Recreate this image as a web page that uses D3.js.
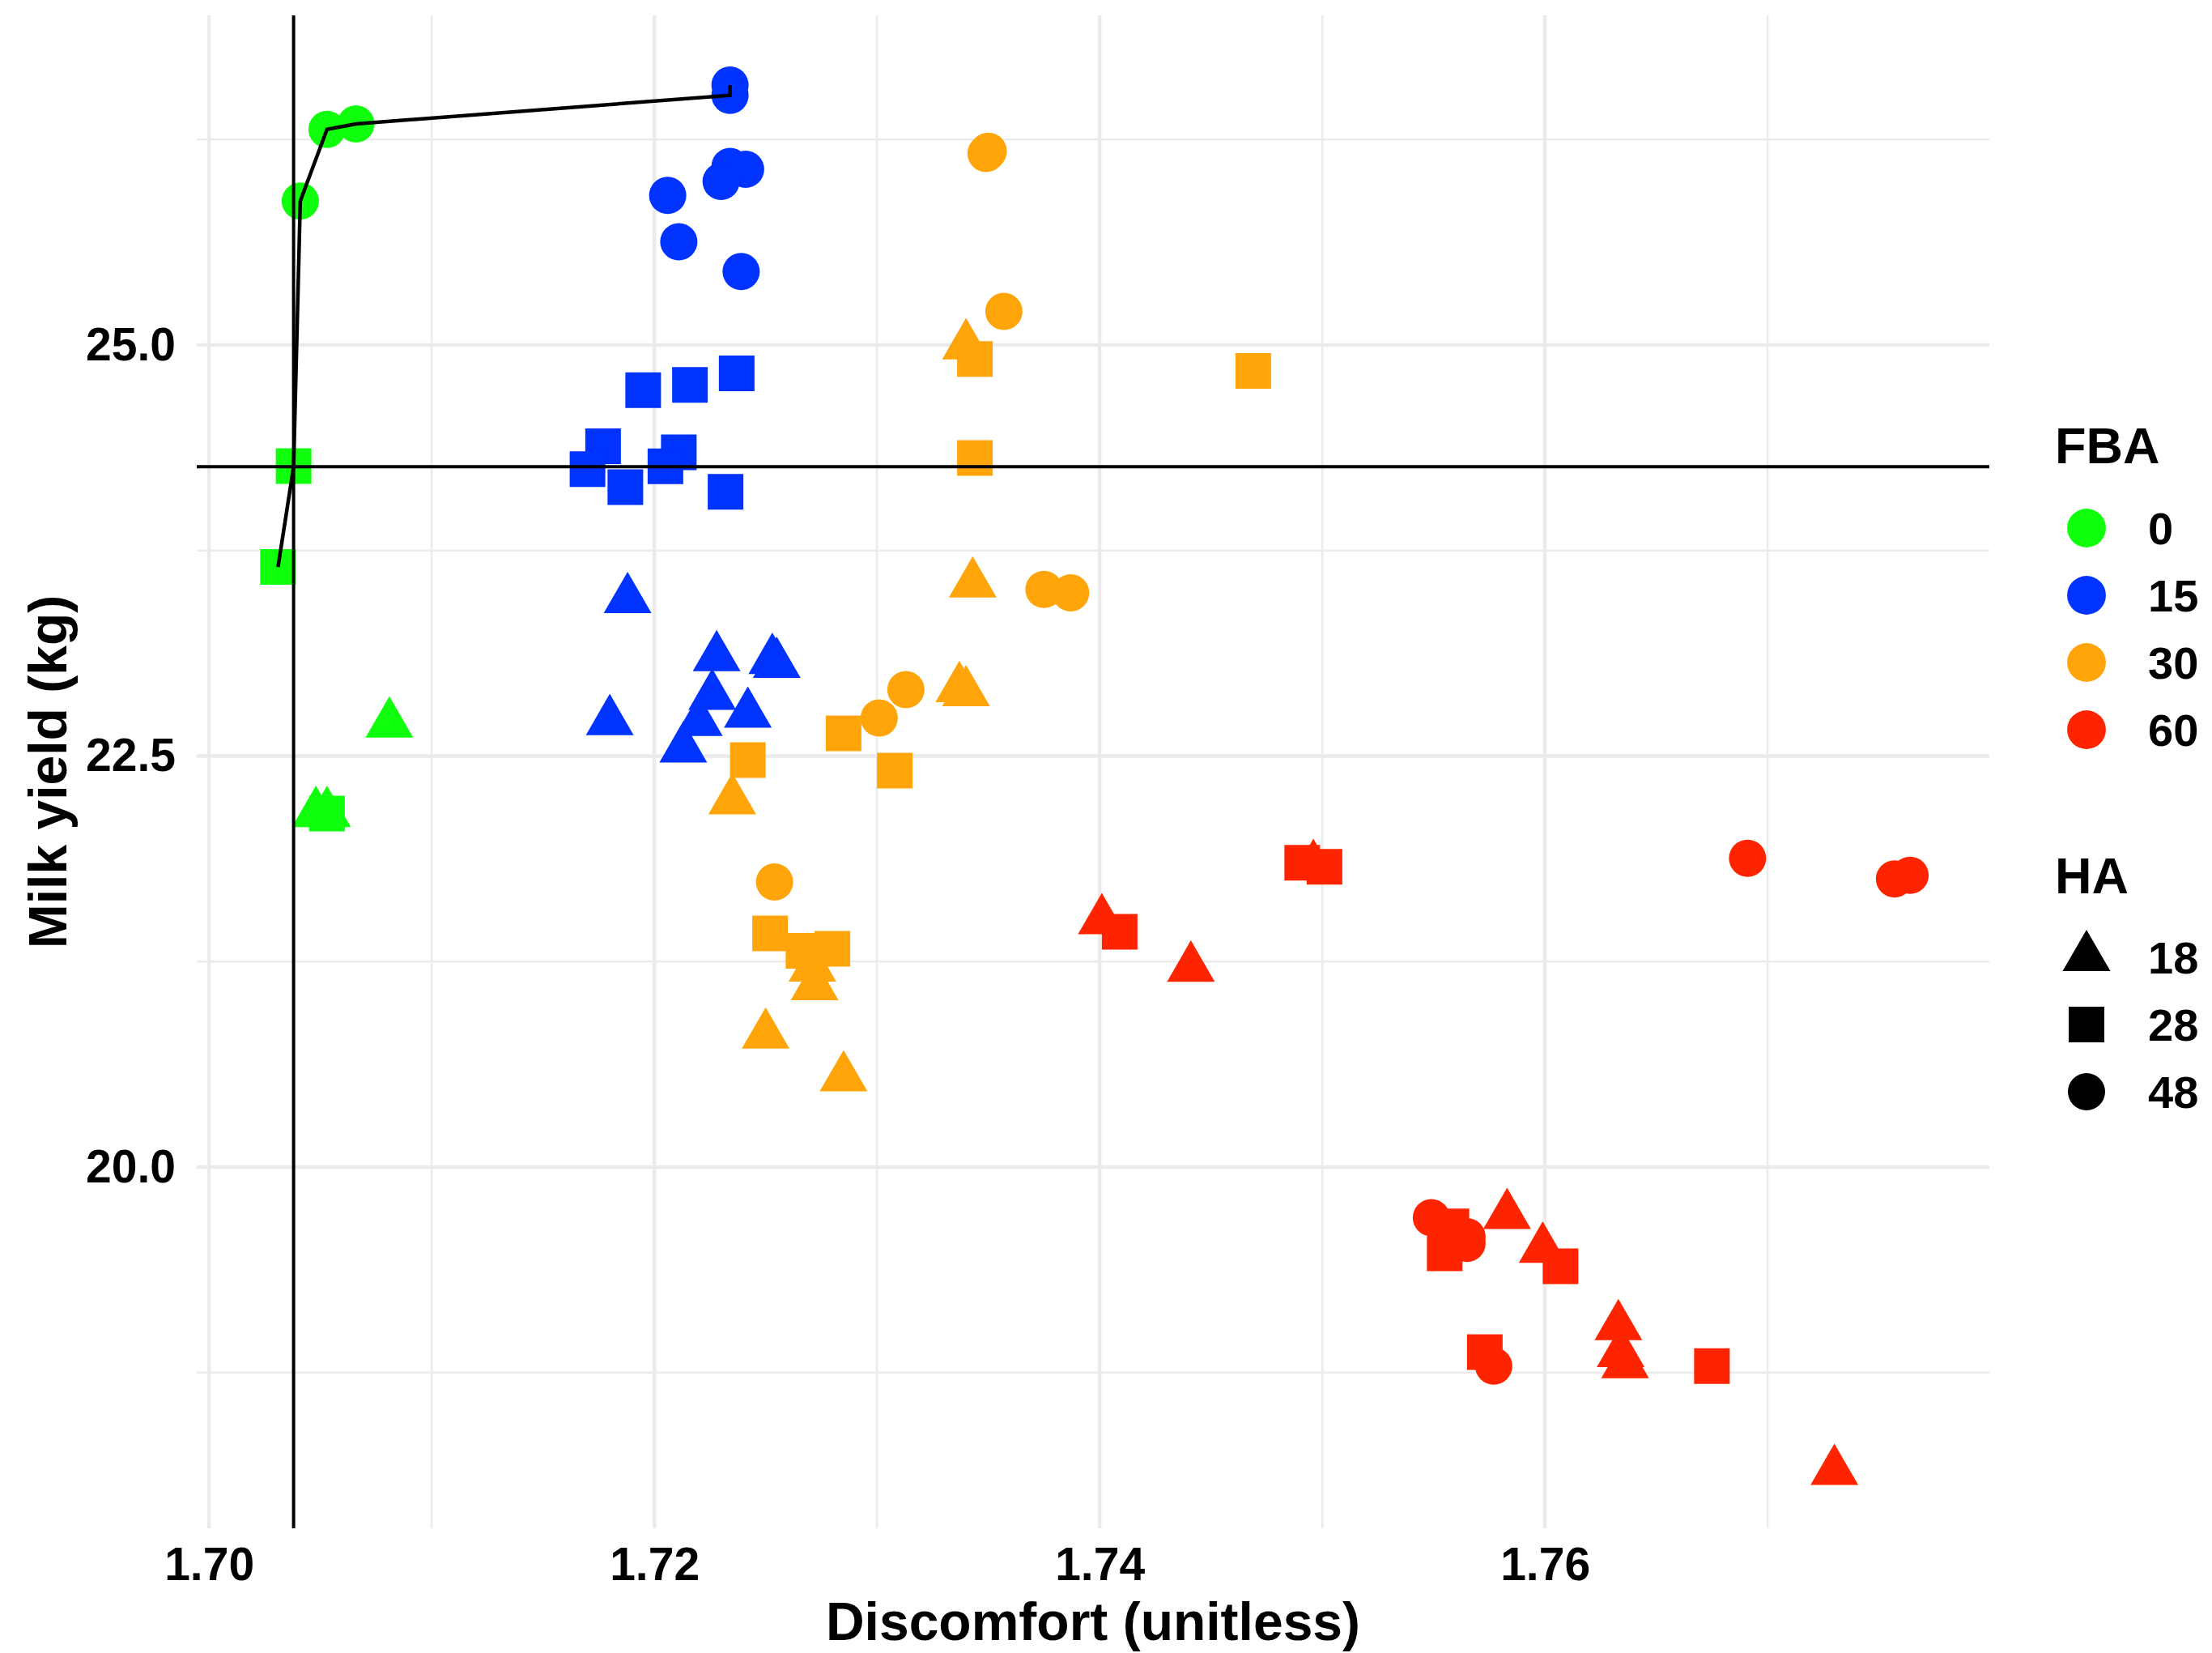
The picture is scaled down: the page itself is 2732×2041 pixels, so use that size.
<!DOCTYPE html>
<html>
<head>
<meta charset="utf-8">
<script src="https://cdn.jsdelivr.net/npm/d3@7"></script>
<style>
  body { margin: 0; background: #fff; }
  text { font-family: "Liberation Sans", Arial, sans-serif; font-weight: bold; fill: #000; }
</style>
</head>
<body>
<div id="chart"></div>
<script>
// categories
const fbaLevels = ["0", "15", "30", "60"];
const haLevels = ["18", "28", "48"];

// points per FBA group: [discomfort, milk yield, HA]
const fba0 = [
  [1.7041, 25.876, "48"], [1.7053, 26.312, "48"], [1.7066, 26.345, "48"],
  [1.7038, 24.264, "28"], [1.7031, 23.650, "28"], [1.7053, 22.150, "28"],
  [1.7081, 22.696, "18"], [1.7048, 22.152, "18"], [1.7053, 22.152, "18"]
];
const fba15 = [
  [1.7234, 26.581, "48"], [1.7234, 26.519, "48"], [1.7234, 26.086, "48"], [1.7241, 26.069, "48"],
  [1.7230, 25.995, "48"], [1.7206, 25.910, "48"], [1.7211, 25.628, "48"], [1.7239, 25.447, "48"],
  [1.7195, 24.726, "28"], [1.7216, 24.757, "28"], [1.7237, 24.828, "28"], [1.7177, 24.384, "28"],
  [1.7170, 24.245, "28"], [1.7187, 24.135, "28"], [1.7211, 24.347, "28"], [1.7205, 24.262, "28"],
  [1.7232, 24.107, "28"],
  [1.7188, 23.453, "18"], [1.7228, 23.100, "18"], [1.7253, 23.083, "18"], [1.7255, 23.059, "18"],
  [1.7226, 22.865, "18"], [1.7242, 22.756, "18"], [1.7180, 22.711, "18"], [1.7220, 22.706, "18"],
  [1.7213, 22.545, "18"]
];
const fba30 = [
  [1.7349, 26.165, "48"], [1.7350, 26.179, "48"], [1.7357, 25.204, "48"], [1.7375, 23.513, "48"],
  [1.7387, 23.493, "48"], [1.7313, 22.904, "48"], [1.7301, 22.731, "48"], [1.7254, 21.734, "48"],
  [1.7344, 24.915, "28"], [1.7344, 24.313, "28"], [1.7469, 24.842, "28"], [1.7285, 22.638, "28"],
  [1.7308, 22.411, "28"], [1.7242, 22.476, "28"], [1.7252, 21.421, "28"], [1.7267, 21.315, "28"],
  [1.7280, 21.328, "28"],
  [1.7340, 24.997, "18"], [1.7343, 23.548, "18"], [1.7337, 22.912, "18"], [1.7340, 22.887, "18"],
  [1.7235, 22.229, "18"], [1.7271, 21.212, "18"], [1.7272, 21.099, "18"], [1.7250, 20.804, "18"],
  [1.7285, 20.544, "18"]
];
const fba60 = [
  [1.7691, 21.878, "48"], [1.7757, 21.753, "48"], [1.7764, 21.775, "48"], [1.7549, 19.692, "48"],
  [1.7565, 19.576, "48"], [1.7565, 19.536, "48"], [1.7577, 18.790, "48"],
  [1.7491, 21.851, "28"], [1.7501, 21.826, "28"], [1.7409, 21.431, "28"], [1.7558, 19.639, "28"],
  [1.7555, 19.475, "28"], [1.7607, 19.397, "28"], [1.7573, 18.875, "28"], [1.7675, 18.790, "28"],
  [1.7496, 21.830, "18"], [1.7401, 21.500, "18"], [1.7441, 21.211, "18"], [1.7583, 19.707, "18"],
  [1.7599, 19.502, "18"], [1.7633, 19.031, "18"], [1.7634, 18.867, "18"], [1.7636, 18.800, "18"],
  [1.7730, 18.150, "18"]
];

// frontier line
const frontierX = [1.7031, 1.7038, 1.7041, 1.7053, 1.7066, 1.7234, 1.7234];
const frontierY = [23.650, 24.259, 25.876, 26.312, 26.345, 26.519, 26.581];

// reference lines
const refDiscomfort = 1.7038;
const refYield = 24.26;

// ticks
const xTicks = [1.70, 1.72, 1.74, 1.76];
const xMinor = [1.71, 1.73, 1.75, 1.77];
const yTicks = [20.0, 22.5, 25.0];
const yMinor = [18.75, 21.25, 23.75, 26.25];

const width = 2732;
const height = 2041;
const panel = { left: 243, right: 2457, top: 19, bottom: 1887 };

const svg = d3.select("#chart").append("svg")
  .attr("width", width)
  .attr("height", height);

svg.append("rect").attr("width", width).attr("height", height).attr("fill", "#fff");

const x = d3.scaleLinear().domain([1.69945, 1.77996]).range([panel.left, panel.right]);
const y = d3.scaleLinear().domain([17.803, 27.005]).range([panel.bottom, panel.top]);

const color = d3.scaleOrdinal().domain(fbaLevels)
  .range(["#10FF0C", "#0033FF", "#FFA50A", "#FF2400"]);
const shape = d3.scaleOrdinal().domain(haLevels)
  .range([d3.symbolTriangle, d3.symbolSquare, d3.symbolCircle]);
const area = d3.scaleOrdinal().domain(haLevels).range([1507, 1936, 1662]);
const symbolPath = (ha) => d3.symbol().type(shape(ha)).size(area(ha))();

// grid
const grid = svg.append("g");
grid.selectAll(".xminor").data(xMinor).enter().append("line")
  .attr("x1", (d) => x(d)).attr("x2", (d) => x(d))
  .attr("y1", panel.top).attr("y2", panel.bottom)
  .attr("stroke", "#EBEBEB").attr("stroke-width", 2.5);
grid.selectAll(".yminor").data(yMinor).enter().append("line")
  .attr("y1", (d) => y(d)).attr("y2", (d) => y(d))
  .attr("x1", panel.left).attr("x2", panel.right)
  .attr("stroke", "#EBEBEB").attr("stroke-width", 2.5);
grid.selectAll(".xmajor").data(xTicks).enter().append("line")
  .attr("x1", (d) => x(d)).attr("x2", (d) => x(d))
  .attr("y1", panel.top).attr("y2", panel.bottom)
  .attr("stroke", "#EBEBEB").attr("stroke-width", 4.5);
grid.selectAll(".ymajor").data(yTicks).enter().append("line")
  .attr("y1", (d) => y(d)).attr("y2", (d) => y(d))
  .attr("x1", panel.left).attr("x2", panel.right)
  .attr("stroke", "#EBEBEB").attr("stroke-width", 4.5);

// points: triangles, then squares, then circles
const points = [];
[fba0, fba15, fba30, fba60].forEach((arr, i) => {
  arr.forEach((p) => points.push({ x: p[0], y: p[1], ha: p[2], fba: fbaLevels[i] }));
});
const drawOrder = ["18", "28", "48"];
points.sort((a, b) => drawOrder.indexOf(a.ha) - drawOrder.indexOf(b.ha));

svg.append("g").selectAll("path").data(points).enter().append("path")
  .attr("d", (d) => symbolPath(d.ha))
  .attr("transform", (d) => `translate(${x(d.x)},${y(d.y)})`)
  .attr("fill", (d) => color(d.fba));

// reference lines
svg.append("line")
  .attr("x1", x(refDiscomfort)).attr("x2", x(refDiscomfort))
  .attr("y1", panel.top).attr("y2", panel.bottom)
  .attr("stroke", "#000").attr("stroke-width", 4);
svg.append("line")
  .attr("x1", panel.left).attr("x2", panel.right)
  .attr("y1", y(refYield)).attr("y2", y(refYield))
  .attr("stroke", "#000").attr("stroke-width", 4);

// frontier
const line = d3.line().x((d) => x(d[0])).y((d) => y(d[1]));
svg.append("path")
  .datum(frontierX.map((v, i) => [v, frontierY[i]]))
  .attr("d", line)
  .attr("fill", "none")
  .attr("stroke", "#000")
  .attr("stroke-width", 4.5)
  .attr("stroke-linejoin", "miter");

// axes
const xAxis = svg.append("g")
  .attr("transform", `translate(0,${panel.bottom})`)
  .call(d3.axisBottom(x).tickValues(xTicks).tickFormat(d3.format(".2f")).tickSize(0).tickPadding(24));
xAxis.select(".domain").remove();
xAxis.selectAll("text").style("font-size", "57px").style("font-family", "'Liberation Sans', Arial, sans-serif").style("font-weight", "bold").attr("fill", "#000");

const yAxis = svg.append("g")
  .attr("transform", `translate(${panel.left},0)`)
  .call(d3.axisLeft(y).tickValues(yTicks).tickFormat(d3.format(".1f")).tickSize(0).tickPadding(26));
yAxis.select(".domain").remove();
yAxis.selectAll("text").style("font-size", "57px").style("font-family", "'Liberation Sans', Arial, sans-serif").style("font-weight", "bold").attr("fill", "#000");

// axis titles
svg.append("text")
  .attr("x", (panel.left + panel.right) / 2)
  .attr("y", 2025)
  .attr("text-anchor", "middle")
  .style("font-size", "66px")
  .text("Discomfort (unitless)");

svg.append("text")
  .attr("transform", `translate(82,${(panel.top + panel.bottom) / 2}) rotate(-90)`)
  .attr("text-anchor", "middle")
  .style("font-size", "66px")
  .text("Milk yield (kg)");

// legends
const legendX = 2538;
const keyX = 2577;
const labelX = 2653;

svg.append("text").attr("x", legendX).attr("y", 572).style("font-size", "63px").text("FBA");
const fbaKeys = svg.append("g").selectAll("g").data(fbaLevels).enter().append("g")
  .attr("transform", (d, i) => `translate(0,${652 + i * 83})`);
fbaKeys.append("path")
  .attr("d", d3.symbol().type(d3.symbolCircle).size(1800)())
  .attr("transform", `translate(${keyX},0)`)
  .attr("fill", (d) => color(d));
fbaKeys.append("text")
  .attr("x", labelX).attr("dy", "0.36em")
  .style("font-size", "56px")
  .text((d) => d);

svg.append("text").attr("x", legendX).attr("y", 1103).style("font-size", "63px").text("HA");
const haKeys = svg.append("g").selectAll("g").data(haLevels).enter().append("g")
  .attr("transform", (d, i) => `translate(0,${1182 + i * 83})`);
haKeys.append("path")
  .attr("d", (d) => symbolPath(d))
  .attr("transform", `translate(${keyX},0)`)
  .attr("fill", "#000");
haKeys.append("text")
  .attr("x", labelX).attr("dy", "0.36em")
  .style("font-size", "56px")
  .text((d) => d);
</script>
</body>
</html>
